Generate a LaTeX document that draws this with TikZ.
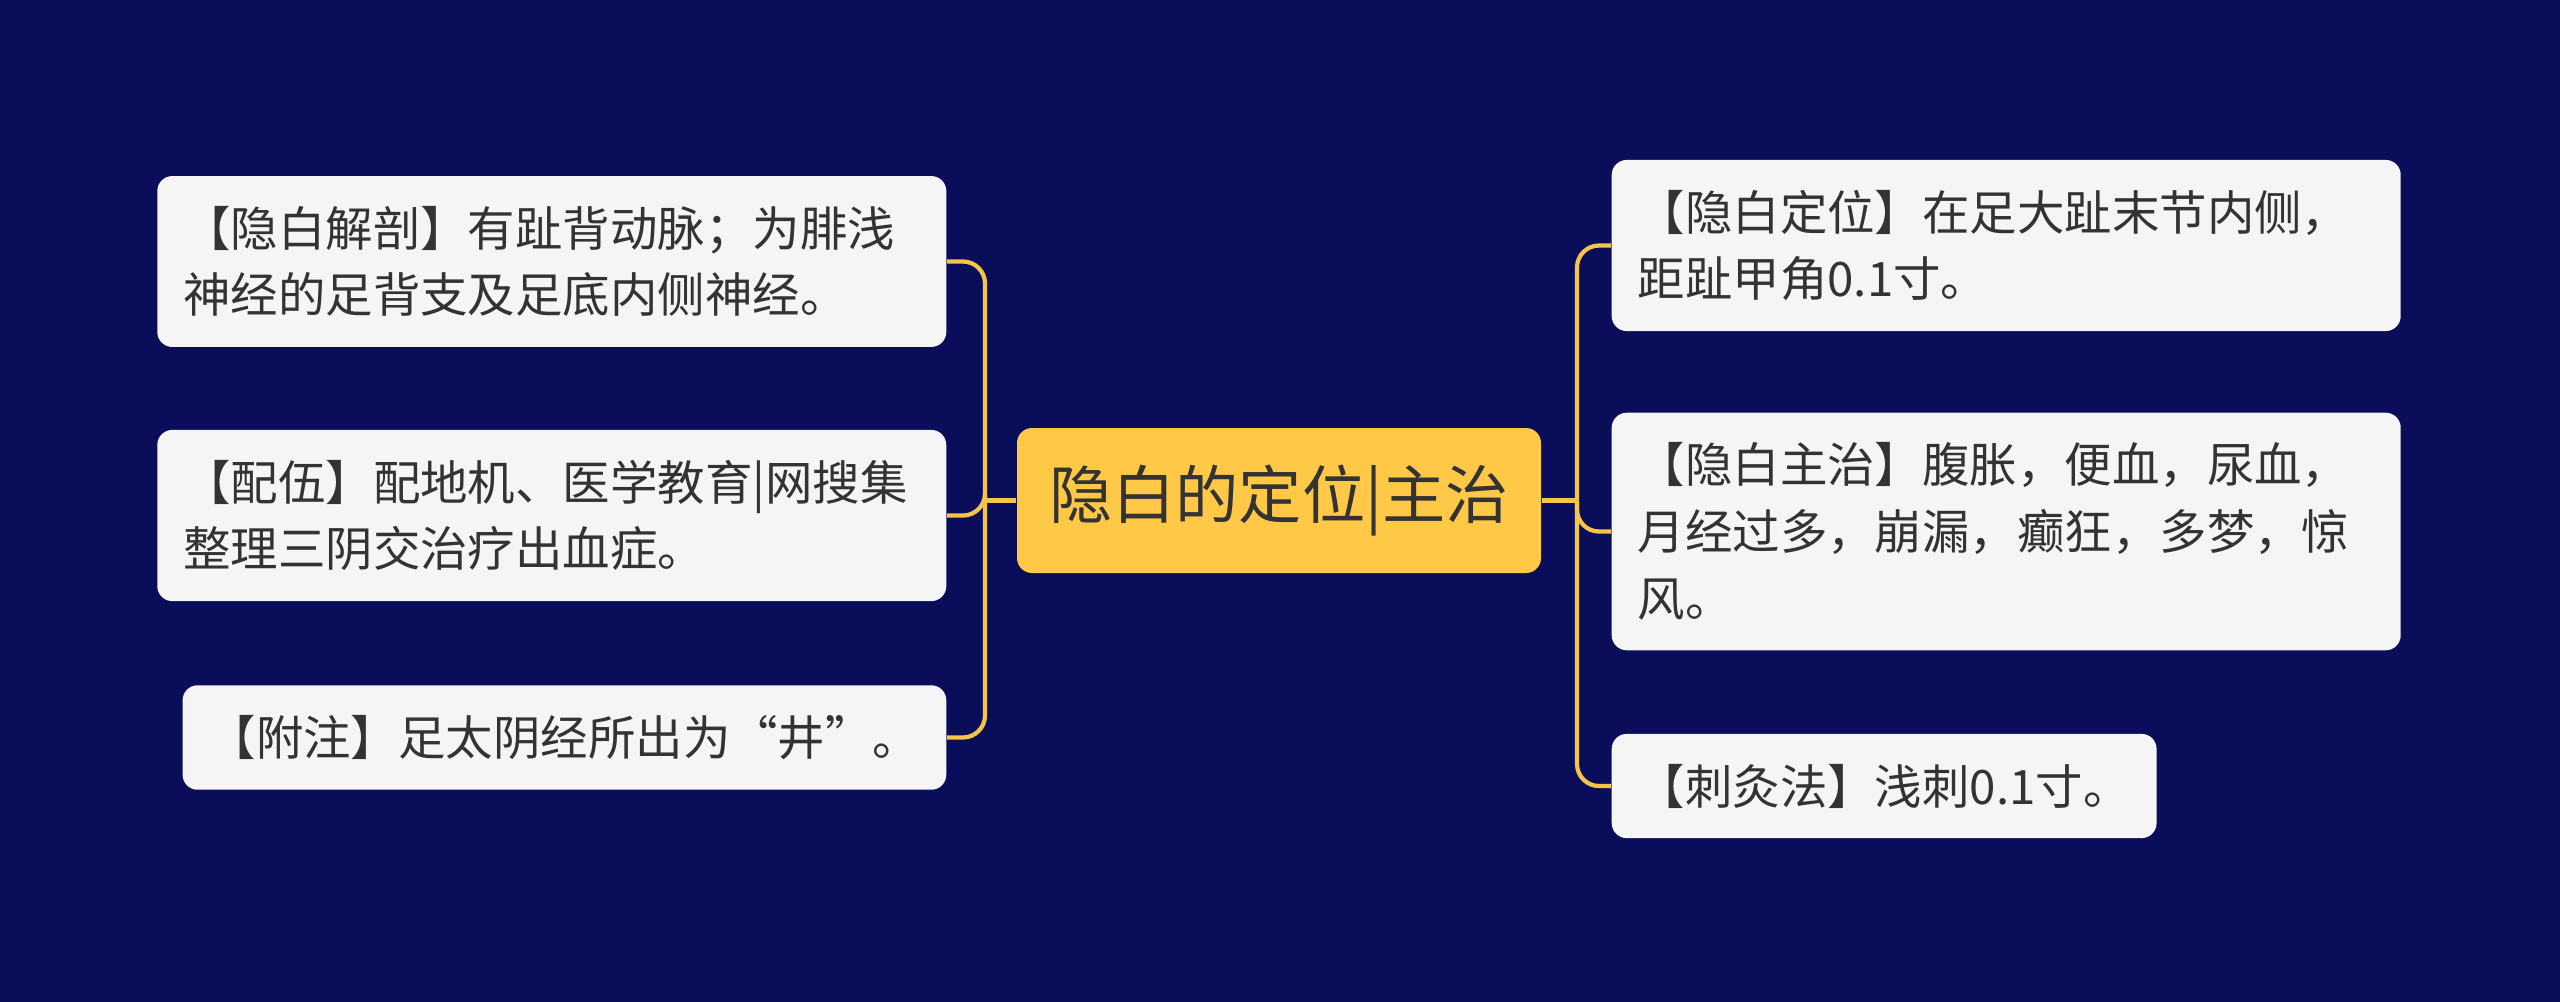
\documentclass[tikz,border=0pt]{standalone}
\usepackage{fontspec}
\usepackage{xcolor}
\usepackage{tikz}
\usetikzlibrary{positioning}
\newfontfamily\cjk{Noto Sans CJK SC}
\definecolor{navybg}{RGB}{10, 14, 90}
\definecolor{gold}{RGB}{255, 200, 70}
\definecolor{linegold}{RGB}{246, 196, 72}
\definecolor{cardbg}{RGB}{245, 245, 246}
\definecolor{inktext}{RGB}{51, 51, 51}

\begin{document}
\begin{tikzpicture}[
			root/.style={rectangle, fill=gold, rounded corners=0.15cm, minimum width=5.24cm, minimum height=1.45cm, inner sep=0pt, text=inktext, font=\cjk\fontsize{18}{22}\selectfont},
			item/.style={rectangle, fill=cardbg, rounded corners=0.15cm, align=left, inner xsep=0.26cm, inner ysep=0.3cm, text=inktext, font=\cjk\fontsize{13.5}{19}\selectfont},
			wide/.style={text width=7.37cm},
			link/.style={draw=linegold, line width=1.2pt, rounded corners=0.22cm}
			]
			% Background
			\useasboundingbox (0,0) rectangle (25.6,-10.01);
			\fill[navybg] (-0.1,0.1) rectangle (25.7,-10.11);
			
			% Root
			\node[root] (root) at (12.79,-5.005) {隐白的定位|主治};
			
			% Left items
			\node[item, wide, anchor=east] (l1) at (9.47,-2.615) {【隐白解剖】有趾背动脉；为腓浅\\神经的足背支及足底内侧神经。};
			\node[item, wide, anchor=east] (l2) at (9.47,-5.155) {【配伍】配地机、医学教育|网搜集\\整理三阴交治疗出血症。};
			\node[item, anchor=east] (l3) at (9.47,-7.375) {【附注】足太阴经所出为“井”。};
			
			% Right items
			\node[item, wide, anchor=west] (r1) at (16.11,-2.455) {【隐白定位】在足大趾末节内侧，\\距趾甲角0.1寸。};
			\node[item, wide, anchor=west] (r2) at (16.11,-5.315) {【隐白主治】腹胀，便血，尿血，\\月经过多，崩漏，癫狂，多梦，惊\\风。};
			\node[item, anchor=west] (r3) at (16.11,-7.86) {【刺灸法】浅刺0.1寸。};
			
			% Junctions
			\coordinate (lj) at (9.85,-5.005);
			\coordinate (rj) at (15.77,-5.005);
			
			% Connections left
			\draw[link] (root.west) -- (lj);
			\draw[link] (lj) |- (l1.east);
			\draw[link] (lj) |- (l2.east);
			\draw[link] (lj) |- (l3.east);
			
			% Connections right
			\draw[link] (root.east) -- (rj);
			\draw[link] (rj) |- (r1.west);
			\draw[link] (rj) |- (r2.west);
			\draw[link] (rj) |- (r3.west);
		\end{tikzpicture}
\end{document}
